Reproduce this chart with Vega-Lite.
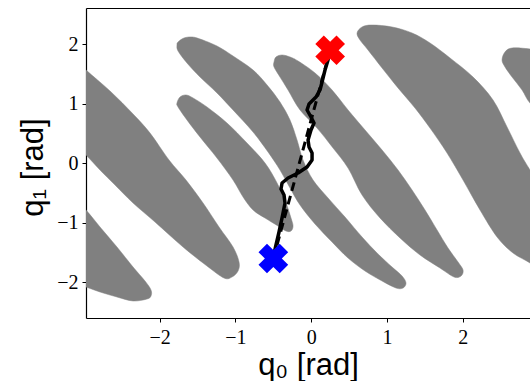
{
  "$schema": "https://vega.github.io/schema/vega-lite/v6.json",
  "autosize": "none",
  "padding": {"left": 86, "top": 8, "right": 0, "bottom": 63},
  "width": 444,
  "height": 310,
  "background": "white",
  "config": {"view": {"stroke": null}},
  "datasets": {
    "obstacles": [
      {"id":"A","i":0,"x":-3.184,"y":1.820},{"id":"A","i":1,"x":-2.973,"y":1.568},{"id":"A","i":2,"x":-2.656,"y":1.215},{"id":"A","i":3,"x":-2.352,"y":0.829},{"id":"A","i":4,"x":-2.128,"y":0.509},{"id":"A","i":5,"x":-1.877,"y":0.055},{"id":"A","i":6,"x":-1.653,"y":-0.281},{"id":"A","i":7,"x":-1.428,"y":-0.667},{"id":"A","i":8,"x":-1.217,"y":-1.071},{"id":"A","i":9,"x":-1.032,"y":-1.407},{"id":"A","i":10,"x":-0.953,"y":-1.659},{"id":"A","i":11,"x":-0.966,"y":-1.810},{"id":"A","i":12,"x":-1.046,"y":-1.911},{"id":"A","i":13,"x":-1.151,"y":-1.928},{"id":"A","i":14,"x":-1.376,"y":-1.726},{"id":"A","i":15,"x":-1.692,"y":-1.407},{"id":"A","i":16,"x":-2.062,"y":-0.987},{"id":"A","i":17,"x":-2.352,"y":-0.667},{"id":"A","i":18,"x":-2.590,"y":-0.365},{"id":"A","i":19,"x":-2.788,"y":-0.113},{"id":"A","i":20,"x":-2.973,"y":0.139},{"id":"A","i":21,"x":-3.184,"y":0.392},
      {"id":"B","i":0,"x":-3.184,"y":-0.533},{"id":"B","i":1,"x":-2.973,"y":-0.785},{"id":"B","i":2,"x":-2.788,"y":-1.071},{"id":"B","i":3,"x":-2.564,"y":-1.407},{"id":"B","i":4,"x":-2.352,"y":-1.743},{"id":"B","i":5,"x":-2.194,"y":-1.978},{"id":"B","i":6,"x":-2.115,"y":-2.129},{"id":"B","i":7,"x":-2.115,"y":-2.230},{"id":"B","i":8,"x":-2.168,"y":-2.281},{"id":"B","i":9,"x":-2.352,"y":-2.314},{"id":"B","i":10,"x":-2.564,"y":-2.247},{"id":"B","i":11,"x":-2.788,"y":-2.163},{"id":"B","i":12,"x":-2.973,"y":-2.079},{"id":"B","i":13,"x":-3.184,"y":-1.995},
      {"id":"D","i":0,"x":-1.772,"y":1.013},{"id":"D","i":1,"x":-1.732,"y":1.114},{"id":"D","i":2,"x":-1.653,"y":1.148},{"id":"D","i":3,"x":-1.560,"y":1.098},{"id":"D","i":4,"x":-1.376,"y":0.946},{"id":"D","i":5,"x":-1.112,"y":0.677},{"id":"D","i":6,"x":-0.848,"y":0.341},{"id":"D","i":7,"x":-0.610,"y":0.005},{"id":"D","i":8,"x":-0.451,"y":-0.331},{"id":"D","i":9,"x":-0.333,"y":-0.667},{"id":"D","i":10,"x":-0.267,"y":-0.919},{"id":"D","i":11,"x":-0.240,"y":-1.054},{"id":"D","i":12,"x":-0.267,"y":-1.138},{"id":"D","i":13,"x":-0.333,"y":-1.138},{"id":"D","i":14,"x":-0.438,"y":-1.054},{"id":"D","i":15,"x":-0.610,"y":-0.919},{"id":"D","i":16,"x":-0.768,"y":-0.785},{"id":"D","i":17,"x":-0.900,"y":-0.566},{"id":"D","i":18,"x":-1.032,"y":-0.281},{"id":"D","i":19,"x":-1.244,"y":0.089},{"id":"D","i":20,"x":-1.468,"y":0.442},{"id":"D","i":21,"x":-1.640,"y":0.728},{"id":"D","i":22,"x":-1.758,"y":0.946},
      {"id":"C","i":0,"x":-1.772,"y":1.988},{"id":"C","i":1,"x":-1.758,"y":2.039},{"id":"C","i":2,"x":-1.679,"y":2.106},{"id":"C","i":3,"x":-1.574,"y":2.123},{"id":"C","i":4,"x":-1.468,"y":2.089},{"id":"C","i":5,"x":-1.244,"y":1.971},{"id":"C","i":6,"x":-1.032,"y":1.803},{"id":"C","i":7,"x":-0.768,"y":1.568},{"id":"C","i":8,"x":-0.583,"y":1.316},{"id":"C","i":9,"x":-0.412,"y":1.030},{"id":"C","i":10,"x":-0.280,"y":0.728},{"id":"C","i":11,"x":-0.187,"y":0.392},{"id":"C","i":12,"x":-0.108,"y":0.055},{"id":"C","i":13,"x":0.024,"y":-0.281},{"id":"C","i":14,"x":0.222,"y":-0.583},{"id":"C","i":15,"x":0.446,"y":-0.903},{"id":"C","i":16,"x":0.671,"y":-1.239},{"id":"C","i":17,"x":0.882,"y":-1.524},{"id":"C","i":18,"x":1.067,"y":-1.743},{"id":"C","i":19,"x":1.199,"y":-1.894},{"id":"C","i":20,"x":1.251,"y":-2.012},{"id":"C","i":21,"x":1.212,"y":-2.096},{"id":"C","i":22,"x":1.119,"y":-2.096},{"id":"C","i":23,"x":0.935,"y":-1.978},{"id":"C","i":24,"x":0.710,"y":-1.810},{"id":"C","i":25,"x":0.486,"y":-1.592},{"id":"C","i":26,"x":0.275,"y":-1.323},{"id":"C","i":27,"x":0.050,"y":-1.020},{"id":"C","i":28,"x":-0.148,"y":-0.701},{"id":"C","i":29,"x":-0.280,"y":-0.415},{"id":"C","i":30,"x":-0.412,"y":-0.113},{"id":"C","i":31,"x":-0.570,"y":0.190},{"id":"C","i":32,"x":-0.768,"y":0.526},{"id":"C","i":33,"x":-1.032,"y":0.896},{"id":"C","i":34,"x":-1.244,"y":1.182},{"id":"C","i":35,"x":-1.468,"y":1.450},{"id":"C","i":36,"x":-1.640,"y":1.686},{"id":"C","i":37,"x":-1.758,"y":1.887},
      {"id":"E","i":0,"x":-0.491,"y":1.703},{"id":"E","i":1,"x":-0.465,"y":1.787},{"id":"E","i":2,"x":-0.385,"y":1.820},{"id":"E","i":3,"x":-0.280,"y":1.787},{"id":"E","i":4,"x":-0.174,"y":1.719},{"id":"E","i":5,"x":0.050,"y":1.518},{"id":"E","i":6,"x":0.275,"y":1.232},{"id":"E","i":7,"x":0.486,"y":0.896},{"id":"E","i":8,"x":0.710,"y":0.560},{"id":"E","i":9,"x":0.935,"y":0.224},{"id":"E","i":10,"x":1.146,"y":-0.113},{"id":"E","i":11,"x":1.331,"y":-0.449},{"id":"E","i":12,"x":1.502,"y":-0.785},{"id":"E","i":13,"x":1.661,"y":-1.121},{"id":"E","i":14,"x":1.806,"y":-1.424},{"id":"E","i":15,"x":1.938,"y":-1.659},{"id":"E","i":16,"x":2.004,"y":-1.793},{"id":"E","i":17,"x":1.978,"y":-1.894},{"id":"E","i":18,"x":1.885,"y":-1.911},{"id":"E","i":19,"x":1.700,"y":-1.760},{"id":"E","i":20,"x":1.436,"y":-1.541},{"id":"E","i":21,"x":1.172,"y":-1.255},{"id":"E","i":22,"x":0.908,"y":-0.919},{"id":"E","i":23,"x":0.671,"y":-0.533},{"id":"E","i":24,"x":0.486,"y":-0.079},{"id":"E","i":25,"x":0.288,"y":0.257},{"id":"E","i":26,"x":0.077,"y":0.593},{"id":"E","i":27,"x":-0.148,"y":0.896},{"id":"E","i":28,"x":-0.306,"y":1.232},{"id":"E","i":29,"x":-0.412,"y":1.450},{"id":"E","i":30,"x":-0.491,"y":1.619},
      {"id":"F","i":0,"x":0.605,"y":2.190},{"id":"F","i":1,"x":0.671,"y":2.291},{"id":"F","i":2,"x":0.803,"y":2.324},{"id":"F","i":3,"x":1.067,"y":2.291},{"id":"F","i":4,"x":1.331,"y":2.190},{"id":"F","i":5,"x":1.568,"y":2.022},{"id":"F","i":6,"x":1.832,"y":1.770},{"id":"F","i":7,"x":2.136,"y":1.450},{"id":"F","i":8,"x":2.400,"y":1.064},{"id":"F","i":9,"x":2.585,"y":0.610},{"id":"F","i":10,"x":2.756,"y":0.173},{"id":"F","i":11,"x":2.888,"y":-0.113},{"id":"F","i":12,"x":3.086,"y":-0.533},{"id":"F","i":13,"x":3.086,"y":-1.877},{"id":"F","i":14,"x":2.888,"y":-1.676},{"id":"F","i":15,"x":2.664,"y":-1.508},{"id":"F","i":16,"x":2.453,"y":-1.239},{"id":"F","i":17,"x":2.228,"y":-0.785},{"id":"F","i":18,"x":2.004,"y":-0.281},{"id":"F","i":19,"x":1.793,"y":0.173},{"id":"F","i":20,"x":1.568,"y":0.593},{"id":"F","i":21,"x":1.370,"y":0.929},{"id":"F","i":22,"x":1.146,"y":1.266},{"id":"F","i":23,"x":0.935,"y":1.602},{"id":"F","i":24,"x":0.750,"y":1.904},{"id":"F","i":25,"x":0.644,"y":2.072},
      {"id":"G","i":0,"x":2.519,"y":1.736},{"id":"G","i":1,"x":2.558,"y":1.871},{"id":"G","i":2,"x":2.651,"y":1.938},{"id":"G","i":3,"x":2.888,"y":1.921},{"id":"G","i":4,"x":3.086,"y":1.871},{"id":"G","i":5,"x":3.086,"y":0.812},{"id":"G","i":6,"x":2.888,"y":1.013},{"id":"G","i":7,"x":2.783,"y":1.232},{"id":"G","i":8,"x":2.651,"y":1.450},{"id":"G","i":9,"x":2.558,"y":1.619}
    ],
    "path": [
      {"i":0,"x":-0.504,"y":-1.592},{"i":1,"x":-0.465,"y":-1.373},{"i":2,"x":-0.425,"y":-1.155},{"i":3,"x":-0.385,"y":-0.919},{"i":4,"x":-0.346,"y":-0.667},{"i":5,"x":-0.359,"y":-0.533},{"i":6,"x":-0.399,"y":-0.432},{"i":7,"x":-0.385,"y":-0.331},{"i":8,"x":-0.306,"y":-0.247},{"i":9,"x":-0.174,"y":-0.163},{"i":10,"x":-0.055,"y":-0.062},{"i":11,"x":0.011,"y":0.055},{"i":12,"x":0.011,"y":0.173},{"i":13,"x":-0.029,"y":0.274},{"i":14,"x":-0.042,"y":0.392},{"i":15,"x":-0.003,"y":0.560},{"i":16,"x":0.037,"y":0.677},{"i":17,"x":-0.003,"y":0.778},{"i":18,"x":-0.055,"y":0.896},{"i":19,"x":-0.029,"y":0.997},{"i":20,"x":0.063,"y":1.114},{"i":21,"x":0.116,"y":1.232},{"i":22,"x":0.143,"y":1.366},{"i":23,"x":0.182,"y":1.568},{"i":24,"x":0.222,"y":1.736},{"i":25,"x":0.248,"y":1.904}
    ],
    "straight": [
      {"i":0,"x":-0.5,"y":-1.6},{"i":1,"x":0.25,"y":1.9}
    ],
    "markers": [
      {"name":"start","x":-0.5,"y":-1.6},{"name":"goal","x":0.25,"y":1.9}
    ]
  },
  "resolve": {"axis": {"x": "independent"}},
  "encoding": {
    "y": {"field": "y", "type": "quantitative",
      "scale": {"domain": [-2.6, 2.61], "nice": false, "zero": false},
      "axis": {"values": [-2, -1, 0, 1, 2], "grid": false, "tickSize": 4, "tickColor": "black", "domainColor": "black", "domainWidth": 1.2,
        "labelFont": "Liberation Serif", "labelFontSize": 20, "labelColor": "black", "labelPadding": 4,
        "title": "q₁ [rad]", "titleFont": "Liberation Sans", "titleFontSize": 31, "titleFontWeight": "normal", "titleColor": "black",
        "titleBaseline": "alphabetic", "titleX": -44, "titleY": 159}}
  },
  "layer": [
    {"data": {"name": "obstacles"},
     "mark": {"type": "line", "fill": "#808080", "stroke": "#808080", "strokeWidth": 0.5, "interpolate": "cardinal-closed", "clip": true},
     "encoding": {
       "x": {"field": "x", "type": "quantitative",
         "scale": {"domain": [-2.973, 2.888], "nice": false, "zero": false},
         "axis": {"orient": "bottom", "values": [-2, -1, 0, 1, 2], "grid": false, "tickSize": 4, "tickColor": "black", "domainColor": "black", "domainWidth": 1.2,
           "labelFont": "Liberation Serif", "labelFontSize": 20, "labelColor": "black", "labelPadding": 5,
           "title": "q₀ [rad]", "titleFont": "Liberation Sans", "titleFontSize": 31, "titleFontWeight": "normal", "titleColor": "black",
           "titleBaseline": "alphabetic", "titleY": 56}},
       "detail": {"field": "id"}, "order": {"field": "i", "type": "quantitative"}}},
    {"data": {"name": "straight"},
     "mark": {"type": "line", "color": "black", "strokeWidth": 3, "strokeDash": [9, 5]},
     "encoding": {
       "x": {"field": "x", "type": "quantitative", "axis": null},
       "order": {"field": "i", "type": "quantitative"}}},
    {"data": {"name": "path"},
     "mark": {"type": "line", "color": "black", "strokeWidth": 3.5, "strokeJoin": "round"},
     "encoding": {
       "x": {"field": "x", "type": "quantitative", "axis": null},
       "order": {"field": "i", "type": "quantitative"}}},
    {"data": {"name": "markers"},
     "mark": {"type": "point", "shape": "cross", "angle": 45, "size": 900, "filled": true, "opacity": 1, "strokeWidth": 0},
     "encoding": {
       "x": {"field": "x", "type": "quantitative",
         "axis": {"orient": "top", "labels": false, "ticks": false, "grid": false, "title": null, "domain": true, "domainColor": "black", "domainWidth": 1.2}},
       "color": {"field": "name", "type": "nominal", "scale": {"domain": ["start", "goal"], "range": ["#0000ff", "#ff0000"]}, "legend": null}}}
  ]
}
